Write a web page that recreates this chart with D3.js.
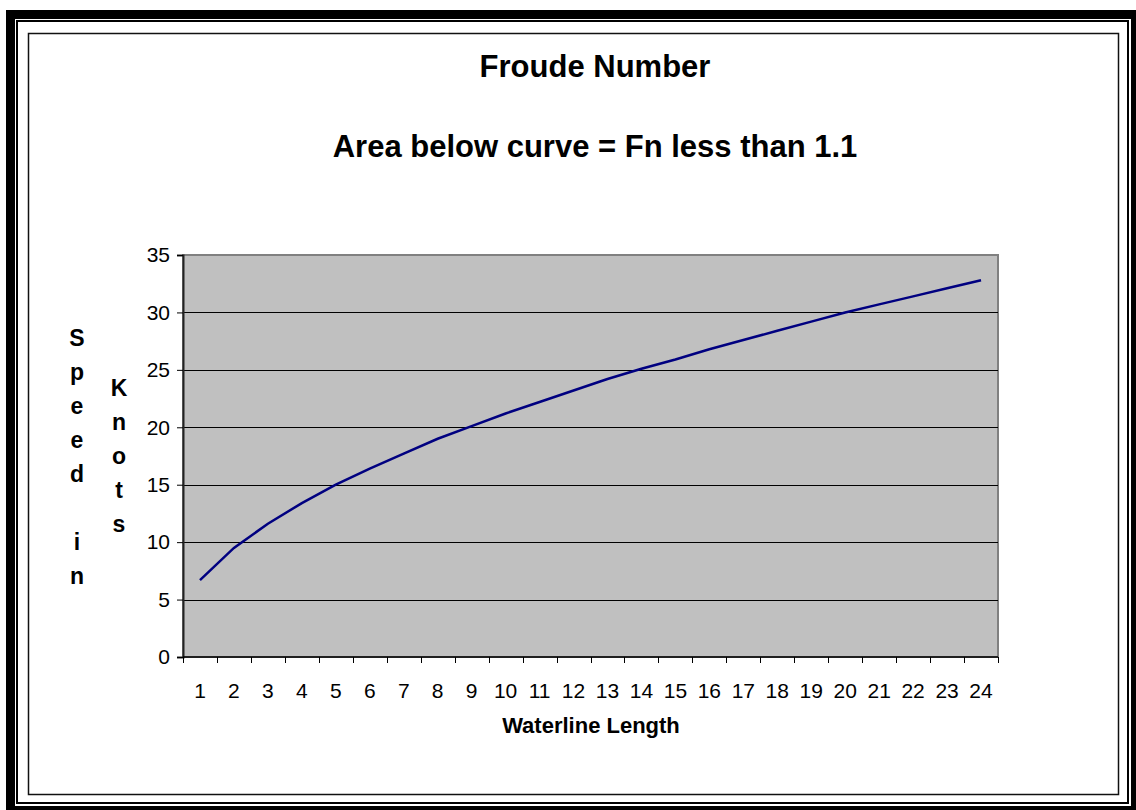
<!DOCTYPE html>
<html>
<head>
<meta charset="utf-8">
<script src="https://cdn.jsdelivr.net/npm/d3@7"></script>
<style>
  body { margin: 0; background: #fff; }
  text { font-family: "Liberation Sans", Arial, sans-serif; }
</style>
</head>
<body>
<script>
// waterline length (categories) and speed in knots
const lengths = d3.range(1, 25).map(String);
const speeds = [6.7, 9.5, 11.6, 13.4, 15.0, 16.4, 17.7, 19.0, 20.1, 21.2, 22.2, 23.2,
                24.2, 25.1, 25.9, 26.8, 27.6, 28.4, 29.2, 30.0, 30.7, 31.4, 32.1, 32.8];
const yTicks = [0, 5, 10, 15, 20, 25, 30, 35];
const titleLines = ['Froude Number', 'Area below curve = Fn less than 1.1'];
const yTitleA = ['S', 'p', 'e', 'e', 'd', '', 'i', 'n'];
const yTitleB = ['K', 'n', 'o', 't', 's'];

const w = 1136, h = 810;
const svg = d3.select('body').append('svg')
              .attr('width', w)
              .attr('height', h)

// frame: thick black band, thin line, then the chart box
svg.append('rect').attr('x', 6).attr('y', 10).attr('width', w).attr('height', h).attr('fill', '#000')
svg.append('rect').attr('x', 15).attr('y', 19).attr('width', 1116).attr('height', 787).attr('fill', '#fff')
svg.append('rect').attr('x', 17).attr('y', 21).attr('width', 1111).attr('height', 782)
   .attr('fill', 'none').attr('stroke', '#000').attr('stroke-width', 2)
svg.append('rect').attr('x', 28.5).attr('y', 33.5).attr('width', 1090).attr('height', 761)
   .attr('fill', 'none').attr('stroke', '#111').attr('stroke-width', 1.5)

const pLeft = 183, pRight = 998, pTop = 255, pBottom = 657;
const x = d3.scaleBand().domain(lengths).range([pLeft, pRight]).padding(0);
const y = d3.scaleLinear().domain([0, 35]).range([pBottom, pTop]);

svg.append('rect')
   .attr('x', pLeft).attr('y', pTop)
   .attr('width', pRight - pLeft).attr('height', pBottom - pTop)
   .attr('fill', '#c0c0c0')
   .attr('stroke', '#808080').attr('stroke-width', 2)

svg.append('g').selectAll('line')
   .data(yTicks.filter(d => d > 0 && d < 35))
   .enter().append('line')
   .attr('x1', pLeft).attr('x2', pRight)
   .attr('y1', d => Math.round(y(d)) + 0.5).attr('y2', d => Math.round(y(d)) + 0.5)
   .attr('stroke', '#000').attr('stroke-width', 1)

// y axis
const yAxis = d3.axisLeft(y).tickValues(yTicks).tickSize(6).tickPadding(7);
const gy = svg.append('g').attr('transform', `translate(${pLeft},0)`).call(yAxis);
gy.select('.domain').attr('stroke', '#222').attr('stroke-width', 2);
gy.selectAll('.tick line').attr('stroke', '#000');
gy.selectAll('.tick text').attr('font-size', 21).attr('fill', '#000')
  .style('font-family', '"Liberation Sans", Arial, sans-serif');

// x axis (ticks between categories)
const gx = svg.append('g').attr('transform', `translate(0,${pBottom})`);
gx.append('line').attr('x1', pLeft).attr('x2', pRight).attr('stroke', '#000').attr('stroke-width', 1.5);
const edges = lengths.map(d => x(d)).concat([pRight]);
gx.selectAll('.tk').data(edges).enter().append('line')
  .attr('x1', d => Math.round(d) + 0.5).attr('x2', d => Math.round(d) + 0.5)
  .attr('y1', 0).attr('y2', 6).attr('stroke', '#000')
gx.selectAll('.lb').data(lengths).enter().append('text')
  .attr('x', d => x(d) + x.bandwidth() / 2)
  .attr('y', 41)
  .attr('text-anchor', 'middle')
  .attr('font-size', 21)
  .text(d => d)

// the curve
const line = d3.line()
               .x((d, i) => x(lengths[i]) + x.bandwidth() / 2)
               .y(d => y(d));
svg.append('path')
   .datum(speeds)
   .attr('d', line)
   .attr('fill', 'none')
   .attr('stroke', '#000080')
   .attr('stroke-width', 2.5)

// titles
svg.selectAll('.title').data(titleLines).enter().append('text')
   .attr('x', 595)
   .attr('y', (d, i) => i === 0 ? 77 : 157)
   .attr('text-anchor', 'middle')
   .attr('font-size', 31)
   .attr('font-weight', 'bold')
   .text(d => d)

svg.append('text')
   .attr('x', 591).attr('y', 733)
   .attr('text-anchor', 'middle')
   .attr('font-size', 22)
   .attr('font-weight', 'bold')
   .text('Waterline Length')

svg.selectAll('.ya').data(yTitleA).enter().append('text')
   .attr('x', 77).attr('y', (d, i) => 338 + i * 34)
   .attr('dy', '0.35em')
   .attr('text-anchor', 'middle')
   .attr('font-size', 23).attr('font-weight', 'bold')
   .text(d => d)

svg.selectAll('.yb').data(yTitleB).enter().append('text')
   .attr('x', 119).attr('y', (d, i) => 388 + i * 34)
   .attr('dy', '0.35em')
   .attr('text-anchor', 'middle')
   .attr('font-size', 23).attr('font-weight', 'bold')
   .text(d => d)
</script>
</body>
</html>
